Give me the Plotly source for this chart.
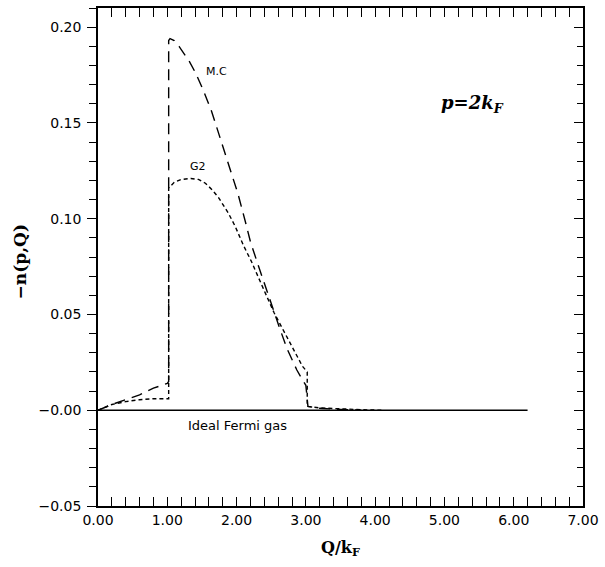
import plotly.graph_objects as go

# ---- data ----
mc_x = [0.0, 0.2, 0.4, 0.6, 0.8, 1.0, 1.02, 1.02, 1.04, 1.1, 1.17, 1.24, 1.32, 1.41, 1.52, 1.64,
        1.73, 1.83, 1.92, 2.02, 2.13, 2.2, 2.3, 2.4, 2.52, 2.62, 2.73, 2.87, 2.95, 3.0, 3.03,
        3.2, 3.5, 3.8]
mc_y = [0.0, 0.003, 0.0055, 0.008, 0.0115, 0.014, 0.015, 0.193, 0.194, 0.193, 0.190, 0.186,
        0.182, 0.176, 0.167, 0.156, 0.146, 0.135, 0.125, 0.113, 0.098, 0.088, 0.077, 0.066,
        0.053, 0.043, 0.032, 0.021, 0.016, 0.013, 0.002, 0.001, 0.0004, 0.0]

g2_x = [0.0, 0.1, 0.2, 0.4, 0.6, 0.8, 1.0, 1.02, 1.02, 1.1, 1.2, 1.34, 1.45, 1.55, 1.65, 1.74,
        1.88, 1.98, 2.1, 2.21, 2.38, 2.54, 2.73, 2.87, 2.95, 3.02, 3.02, 3.2, 3.5, 3.8, 4.1]
g2_y = [0.0, 0.0015, 0.003, 0.0045, 0.0055, 0.006, 0.006, 0.006, 0.116, 0.119, 0.1205, 0.121,
        0.1205, 0.1185, 0.115, 0.111, 0.103, 0.096, 0.086, 0.078, 0.064, 0.051, 0.038, 0.028,
        0.023, 0.020, 0.002, 0.0012, 0.0006, 0.0003, 0.0]

ideal_x = [0.0, 6.2]
ideal_y = [0.0, 0.0]

x_tickvals = [0, 1, 2, 3, 4, 5, 6, 7]
x_ticktext = ["0.00", "1.00", "2.00", "3.00", "4.00", "5.00", "6.00", "7.00"]
y_tickvals = [-0.05, 0.0, 0.05, 0.10, 0.15, 0.20]
y_ticktext = ["\u22120.05", "\u22120.00", "0.05", "0.10", "0.15", "0.20"]

X_RANGE = [0, 7]
Y_RANGE = [-0.05, 0.21]

fig = go.Figure()
fig.add_trace(go.Scatter(x=mc_x, y=mc_y, mode="lines",
                         line=dict(color="black", width=1.4, dash="11px,7px"),
                         hoverinfo="skip"))
fig.add_trace(go.Scatter(x=g2_x, y=g2_y, mode="lines",
                         line=dict(color="black", width=1.4, dash="4px,3px"),
                         hoverinfo="skip"))
fig.add_trace(go.Scatter(x=ideal_x, y=ideal_y, mode="lines",
                         line=dict(color="black", width=1.5),
                         hoverinfo="skip"))
# transparent trace on the right-hand axis so that it is drawn
fig.add_trace(go.Scatter(x=ideal_x, y=ideal_y, mode="lines", yaxis="y2",
                         line=dict(color="rgba(0,0,0,0)", width=0), hoverinfo="skip"))

tickfont = dict(family="DejaVu Sans, Liberation Sans, sans-serif", size=14, color="black")

fig.update_layout(
    width=605, height=567,
    margin=dict(l=98, r=17, t=6, b=61),
    paper_bgcolor="white", plot_bgcolor="white",
    showlegend=False,
    xaxis=dict(range=X_RANGE, tickvals=x_tickvals, ticktext=x_ticktext,
               ticks="inside", ticklen=9, tickwidth=1.3, tickcolor="black",
               minor=dict(dtick=0.2, tick0=0, ticks="inside", ticklen=6, tickwidth=1.2,
                          tickcolor="black", showgrid=False),
               showline=True, linecolor="black", linewidth=1.6, mirror="allticks",
               showgrid=False, zeroline=False, tickfont=tickfont, layer="above traces"),
    yaxis=dict(range=Y_RANGE, tickvals=y_tickvals, ticktext=y_ticktext,
               ticks="outside", ticklen=9, tickwidth=1.3, tickcolor="black",
               minor=dict(dtick=0.01, tick0=0, ticks="outside", ticklen=7, tickwidth=1.2,
                          tickcolor="black", showgrid=False),
               showline=True, linecolor="black", linewidth=1.6,
               showgrid=False, zeroline=False, tickfont=tickfont,
               ticklabelstandoff=3),
    yaxis2=dict(range=Y_RANGE, overlaying="y", side="right", anchor="x",
                tickvals=y_tickvals, showticklabels=False,
                ticks="inside", ticklen=9, tickwidth=1.3, tickcolor="black",
                minor=dict(dtick=0.01, tick0=0, ticks="inside", ticklen=6, tickwidth=1.2,
                           tickcolor="black", showgrid=False),
                showline=True, linecolor="black", linewidth=1.6,
                showgrid=False, zeroline=False, layer="above traces"),
)

serif_bold = dict(family="DejaVu Serif, Liberation Serif, serif", size=17, color="black")
label_font = dict(family="DejaVu Sans, Liberation Sans, sans-serif", size=11, color="black")

fig.add_annotation(text="<b>\u2212n(p,Q)</b>", xref="paper", yref="paper",
                   x=-0.16, y=0.49, textangle=-90, showarrow=False,
                   xanchor="center", yanchor="middle", font=serif_bold)
fig.add_annotation(text="<b>Q/k<sub>F</sub></b>", xref="paper", yref="paper",
                   x=0.5, y=-0.086, showarrow=False,
                   xanchor="center", yanchor="middle",
                   font=dict(family="DejaVu Serif, Liberation Serif, serif", size=16, color="black"))
fig.add_annotation(text="M.C", x=1.71, y=0.177, showarrow=False, font=label_font)
fig.add_annotation(text="G2", x=1.45, y=0.127, showarrow=False, font=label_font)
fig.add_annotation(text="Ideal Fermi gas", x=2.02, y=-0.008, showarrow=False,
                   font=dict(family="DejaVu Sans, Liberation Sans, sans-serif", size=13, color="black"))
fig.add_annotation(text="<b><i>p=2k<sub>F</sub></i></b>", x=5.4, y=0.16, showarrow=False,
                   font=dict(family="DejaVu Serif, Liberation Serif, serif", size=18, color="black"))

fig.write_html("out.html", config={"displayModeBar": False},
               post_script="document.body.style.margin='0px';")
